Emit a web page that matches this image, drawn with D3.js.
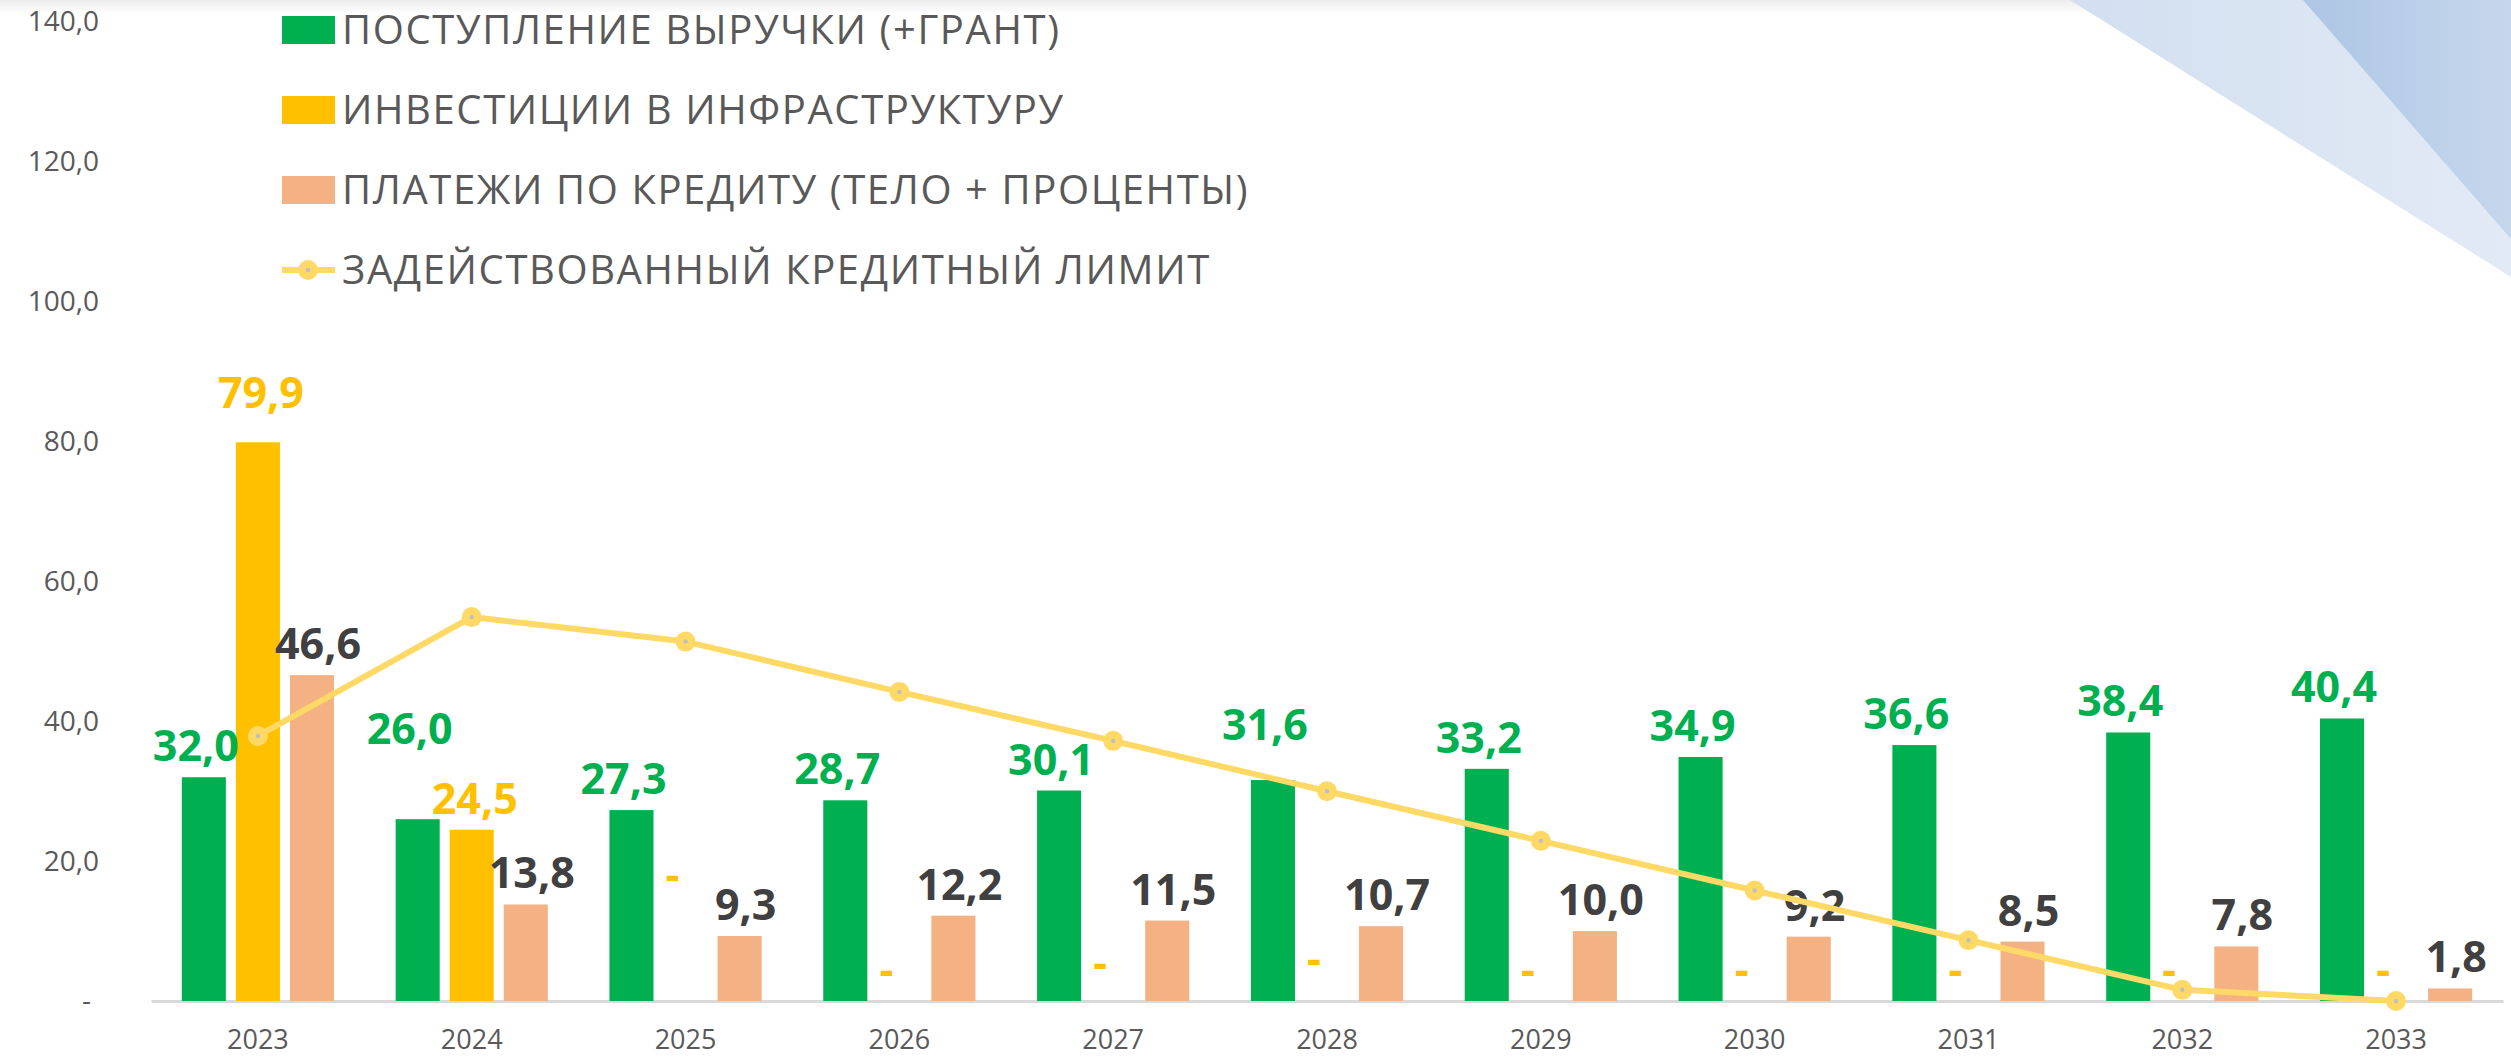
<!DOCTYPE html>
<html>
<head>
<meta charset="utf-8">
<script src="https://cdn.jsdelivr.net/npm/d3@7"></script>
<style>
  html, body { margin: 0; padding: 0; background: #fff; }
  svg { display: block; }
</style>
</head>
<body>
<div id="chart"></div>
<script>
// Chart data
const years = ["2023", "2024", "2025", "2026", "2027", "2028", "2029", "2030", "2031", "2032", "2033"];
const revenue = [32.0, 26.0, 27.3, 28.7, 30.1, 31.6, 33.2, 34.9, 36.6, 38.4, 40.4];
const investment = [79.9, 24.5, 0, 0, 0, 0, 0, 0, 0, 0, 0];
const loanPayments = [46.6, 13.8, 9.3, 12.2, 11.5, 10.7, 10.0, 9.2, 8.5, 7.8, 1.8];
const creditLimit = [37.9, 54.9, 51.4, 44.2, 37.2, 30.0, 22.9, 15.8, 8.7, 1.6, 0];
const yTicks = [0, 20, 40, 60, 80, 100, 120, 140];
const seriesNames = [
    "ПОСТУПЛЕНИЕ ВЫРУЧКИ (+ГРАНТ)",
    "ИНВЕСТИЦИИ В ИНФРАСТРУКТУРУ",
    "ПЛАТЕЖИ ПО КРЕДИТУ (ТЕЛО + ПРОЦЕНТЫ)",
    "ЗАДЕЙСТВОВАННЫЙ КРЕДИТНЫЙ ЛИМИТ"
];

const W = 2511, H = 1059;
const colors = { rev: "#00B050", inv: "#FFC000", loan: "#F4B183", line: "#FFD966" };
const labelColors = { rev: "#00B050", inv: "#FFC000", loan: "#404040" };
const font = "'Open Sans', sans-serif";

// Excel-like number format: 32,0 and "-" for zero
const fmt = v => v === 0 ? "-" : d3.format(".1f")(v).replace(".", ",");

const svg = d3.select("#chart").append("svg")
    .attr("width", W)
    .attr("height", H);

// Decorative background (top shadow + blue corner)
const defs = svg.append("defs");
const shade = defs.append("linearGradient").attr("id", "topShade")
    .attr("x1", 0).attr("y1", 0).attr("x2", 0).attr("y2", 1);
shade.append("stop").attr("offset", "0%").attr("stop-color", "#ececec");
shade.append("stop").attr("offset", "100%").attr("stop-color", "#ffffff");
const light = defs.append("linearGradient").attr("id", "lightBlue")
    .attr("x1", 0).attr("y1", 0).attr("x2", 1).attr("y2", 0);
light.append("stop").attr("offset", "0%").attr("stop-color", "#D2DFF0");
light.append("stop").attr("offset", "100%").attr("stop-color", "#E2EAF5");
const dark = defs.append("linearGradient").attr("id", "darkBlue")
    .attr("x1", 0).attr("y1", 0).attr("x2", 1).attr("y2", 0);
dark.append("stop").attr("offset", "0%").attr("stop-color", "#ADC6E4");
dark.append("stop").attr("offset", "100%").attr("stop-color", "#C6D7EC");

svg.append("rect").attr("x", 0).attr("y", 0).attr("width", W).attr("height", 14)
    .attr("fill", "url(#topShade)");
svg.append("polygon").attr("points", `2070,0 ${W},0 ${W},277`).attr("fill", "url(#lightBlue)");
svg.append("polygon").attr("points", `2303,0 ${W},0 ${W},239`).attr("fill", "url(#darkBlue)");

// Scales
const x0 = d3.scaleBand().domain(years).range([151, 2503]).padding(0);
const keys = ["rev", "inv", "loan"];
const x1 = d3.scaleBand().domain(keys).range([0, x0.bandwidth()])
    .paddingInner(0.185).paddingOuter(0.57);
const y = d3.scaleLinear().domain([0, 140]).range([1001, 22]);

// Y axis (labels only)
const yAxis = svg.append("g")
    .attr("transform", "translate(99,0)")
    .call(d3.axisLeft(y).tickValues(yTicks).tickSize(0).tickPadding(0).tickFormat(fmt));
yAxis.select(".domain").remove();
yAxis.selectAll("text")
    .attr("font-family", font)
    .attr("font-size", 28)
    .attr("fill", "#595959")
    .attr("dx", d => d === 0 ? -8 : 0);

// X axis
const xAxis = svg.append("g")
    .attr("transform", `translate(0,${y(0)})`)
    .call(d3.axisBottom(x0).tickSize(0).tickPadding(29));
xAxis.select(".domain").attr("stroke", "#D9D9D9").attr("stroke-width", 3);
xAxis.selectAll("text")
    .attr("font-family", font)
    .attr("font-size", 27)
    .attr("fill", "#595959");

// Bars
const rows = years.map((yr, i) => ({
    year: yr,
    i: i,
    vals: [
        { key: "rev", v: revenue[i] },
        { key: "inv", v: investment[i] },
        { key: "loan", v: loanPayments[i] }
    ]
}));

const groups = svg.append("g").selectAll("g")
    .data(rows)
    .join("g")
    .attr("transform", d => `translate(${x0(d.year)},0)`);

groups.selectAll("rect")
    .data(d => d.vals.filter(v => v.v > 0))
    .join("rect")
    .attr("x", d => x1(d.key))
    .attr("width", x1.bandwidth())
    .attr("y", d => y(d.v))
    .attr("height", d => y(0) - y(d.v))
    .attr("fill", d => colors[d.key]);

// Line: credit limit used
const linePts = years.map((yr, i) => ({ year: yr, v: creditLimit[i] }));
const cx = d => x0(d.year) + x0.bandwidth() / 2;
svg.append("path")
    .datum(linePts)
    .attr("fill", "none")
    .attr("stroke", colors.line)
    .attr("stroke-width", 6)
    .attr("stroke-linejoin", "round")
    .attr("d", d3.line().x(cx).y(d => y(d.v)));

svg.append("g").selectAll("circle")
    .data(linePts)
    .join("circle")
    .attr("cx", cx)
    .attr("cy", d => y(d.v))
    .attr("r", 10)
    .attr("fill", colors.line);
svg.append("g").selectAll("circle")
    .data(linePts)
    .join("circle")
    .attr("cx", cx)
    .attr("cy", d => y(d.v))
    .attr("r", 2.2)
    .attr("fill", "#BFBFBF");

// Data labels; extra lift (px) where labels were dragged in the original
const lift = {
    rev: [0, 59, 0, 0, 0, 24, 0, 0, 0, 0, 0],
    inv: [18, 0, 95, 0, 7, 11, 0, 0, 0, 0, 0],
    loan: [0, 0, 0, 0, 0, 0, 0, 0, 0, 0, 0]
};
const shiftX = { rev: -8, inv: 3, loan: 6 };

groups.selectAll("text")
    .data(d => d.vals.map(v => ({ ...v, i: d.i })))
    .join("text")
    .attr("x", d => x1(d.key) + x1.bandwidth() / 2 + (d.v === 0 ? -13 : shiftX[d.key]))
    .attr("y", d => y(d.v) - 16 - lift[d.key][d.i])
    .attr("text-anchor", "middle")
    .attr("font-family", font)
    .attr("font-weight", 700)
    .attr("font-size", 43)
    .attr("fill", d => labelColors[d.key])
    .text(d => fmt(d.v));

// Legend
const legend = svg.append("g");
const legendRows = seriesNames.map((name, i) => ({ name, i }));
const legendY = i => 30 + i * 80;
const legendFill = [colors.rev, colors.inv, colors.loan];

legendRows.forEach(d => {
    const g = legend.append("g").attr("transform", `translate(0,${legendY(d.i)})`);
    if (d.i < 3) {
        g.append("rect")
            .attr("x", 282).attr("y", -14)
            .attr("width", 53).attr("height", 28)
            .attr("fill", legendFill[d.i]);
    } else {
        g.append("line")
            .attr("x1", 282).attr("x2", 335)
            .attr("y1", 0).attr("y2", 0)
            .attr("stroke", colors.line).attr("stroke-width", 6);
        g.append("circle").attr("cx", 308).attr("cy", 0).attr("r", 10).attr("fill", colors.line);
        g.append("circle").attr("cx", 308).attr("cy", 0).attr("r", 2.2).attr("fill", "#BFBFBF");
    }
    g.append("text")
        .attr("x", 342)
        .attr("y", 0)
        .attr("dy", "0.36em")
        .attr("font-family", font)
        .attr("font-size", 40)
        .attr("letter-spacing", 1.6)
        .attr("fill", "#595959")
        .text(d.name);
});
</script>
</body>
</html>
